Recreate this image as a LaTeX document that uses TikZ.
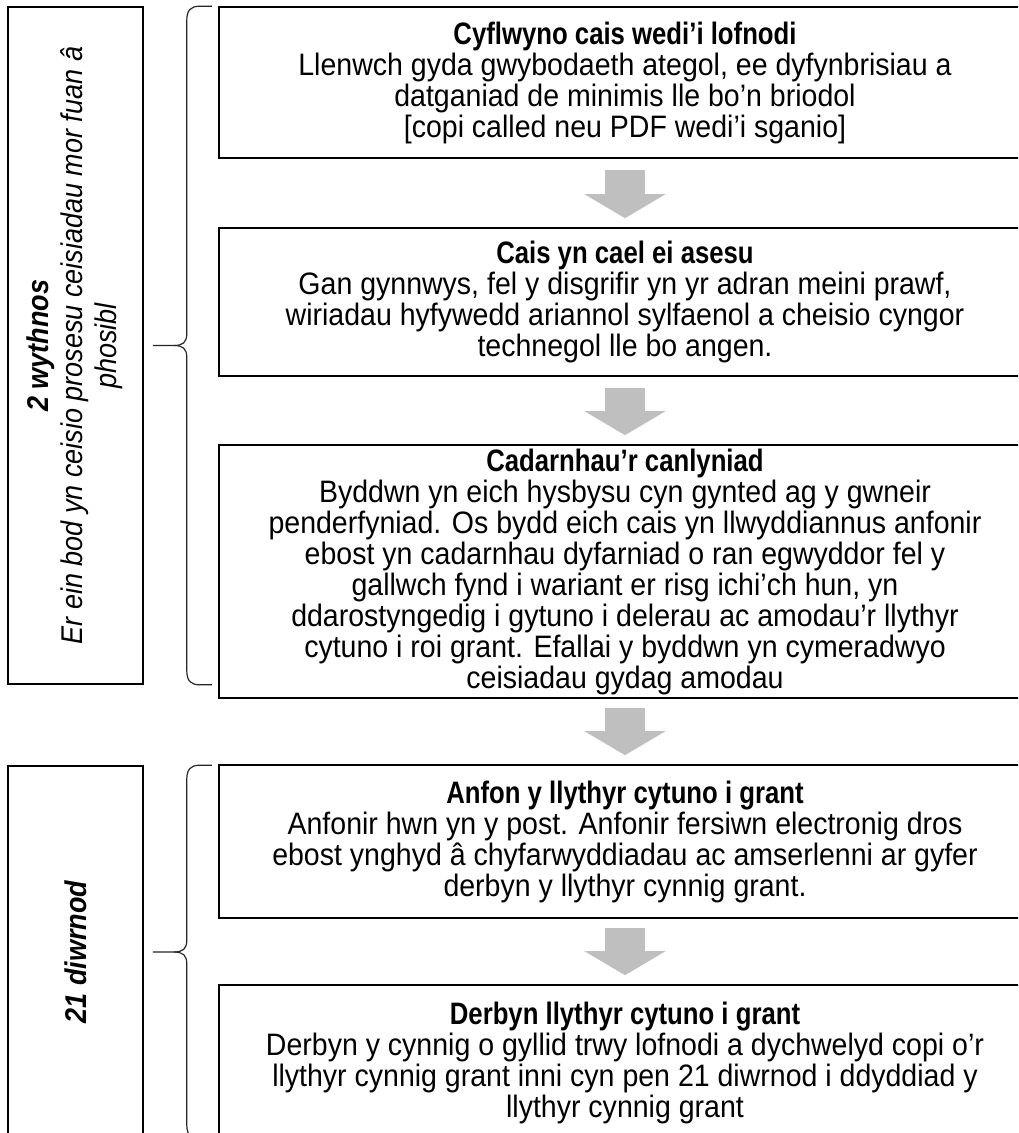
\documentclass[tikz,border=0pt]{standalone}
\usepackage{fontspec}
\setmainfont{Liberation Sans}[FakeStretch=0.92, BoldFeatures={FakeStretch=0.83}]
\newfontfamily\sidefont{Liberation Sans}[FakeStretch=0.9]
\usetikzlibrary{arrows.meta}

\newcommand{\sidebrace}[1]{%
\draw[bracket] ([xshift=68pt]#1.north east) -- ([xshift=56pt]#1.north east)
  .. controls ([xshift=47pt]#1.north east) and ([xshift=43pt,yshift=-4pt]#1.north east) .. ([xshift=43pt,yshift=-14pt]#1.north east)
  -- ([xshift=43pt,yshift=12pt]#1.east)
  .. controls ([xshift=43pt,yshift=3pt]#1.east) and ([xshift=39pt]#1.east) .. ([xshift=30pt]#1.east)
  -- ([xshift=9pt]#1.east);
\draw[bracket] ([xshift=30pt]#1.east)
  .. controls ([xshift=39pt]#1.east) and ([xshift=43pt,yshift=-3pt]#1.east) .. ([xshift=43pt,yshift=-12pt]#1.east)
  -- ([xshift=43pt,yshift=14pt]#1.south east)
  .. controls ([xshift=43pt,yshift=4pt]#1.south east) and ([xshift=47pt]#1.south east) .. ([xshift=56pt]#1.south east)
  -- ([xshift=68pt]#1.south east);
}

\begin{document}
\begin{tikzpicture}[x=1pt,y=-1pt,
  stage/.style={draw, line width=1.6pt, minimum width=812pt, inner sep=0pt, align=center, font=\fontsize{31}{31}\selectfont},
  period/.style={draw, line width=1.6pt, minimum width=135pt, inner sep=0pt, font=\sidefont\fontsize{30}{34}\selectfont},
  bracket/.style={line width=1.2pt, black!85},
  flow/.style={line width=40pt, draw=black!25, -{Triangle[length=24pt,width=80pt]}}]
\useasboundingbox (0,0) rectangle (1018,1133);
\clip (0,0) rectangle (1018,1133);

\node[period, minimum height=677pt] (wythnos) at (75.5,345.5) {\rotatebox{90}{\begin{tabular}{@{}c@{}}\textbf{\textit{2 wythnos}}\\ \textit{Er ein bod yn ceisio prosesu ceisiadau mor fuan â}\\ \textit{phosibl}\end{tabular}}};
\node[period, minimum height=372pt] (diwrnod) at (75.5,952) {\rotatebox{90}{\textbf{\textit{21 diwrnod}}}};

\node[stage, minimum height=151pt] (cyflwyno) at (625,82.5) {\textbf{Cyflwyno cais wedi’i lofnodi}\\ Llenwch gyda gwybodaeth ategol, ee dyfynbrisiau a\\ datganiad de minimis lle bo’n briodol\\ {[copi called neu PDF wedi’i sganio]}};
\node[stage, minimum height=148pt] (asesu) at (625,302) {\textbf{Cais yn cael ei asesu}\\ Gan gynnwys, fel y disgrifir yn yr adran meini prawf,\\ wiriadau hyfywedd ariannol sylfaenol a cheisio cyngor\\ technegol lle bo angen.};
\node[stage, minimum height=253pt] (canlyniad) at (625,571.5) {\textbf{Cadarnhau’r canlyniad}\\ Byddwn yn eich hysbysu cyn gynted ag y gwneir\\ penderfyniad. Os bydd eich cais yn llwyddiannus anfonir\\ ebost yn cadarnhau dyfarniad o ran egwyddor fel y\\ gallwch fynd i wariant er risg ichi’ch hun, yn\\ ddarostyngedig i gytuno i delerau ac amodau’r llythyr\\ cytuno i roi grant. Efallai y byddwn yn cymeradwyo\\ ceisiadau gydag amodau};
\node[stage, minimum height=153pt] (anfon) at (625,841.5) {\textbf{Anfon y llythyr cytuno i grant}\\ Anfonir hwn yn y post. Anfonir fersiwn electronig dros\\ ebost ynghyd â chyfarwyddiadau ac amserlenni ar gyfer\\ derbyn y llythyr cynnig grant.};
\node[stage, minimum height=155pt] (derbyn) at (625,1062.5) {\textbf{Derbyn llythyr cytuno i grant}\\ Derbyn y cynnig o gyllid trwy lofnodi a dychwelyd copi o’r\\ llythyr cynnig grant inni cyn pen 21 diwrnod i ddyddiad y\\ llythyr cynnig grant};

\draw[flow] ([yshift=-11pt]cyflwyno.south) -- ([yshift=9pt]asesu.north);
\draw[flow] ([yshift=-11pt]asesu.south) -- ([yshift=9pt]canlyniad.north);
\draw[flow] ([yshift=-9pt]canlyniad.south) -- ([yshift=9pt]anfon.north);
\draw[flow] ([yshift=-9pt]anfon.south) -- ([yshift=9pt]derbyn.north);

\sidebrace{wythnos}
\sidebrace{diwrnod}
\end{tikzpicture}
\end{document}
